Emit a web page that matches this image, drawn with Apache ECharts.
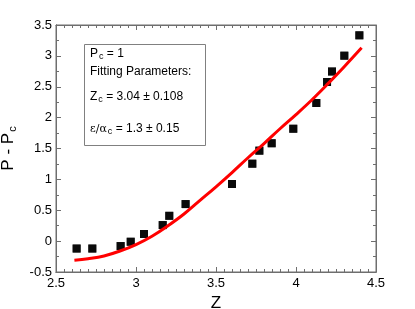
<!DOCTYPE html>
<html>
<head>
<meta charset="utf-8">
<script src="https://cdn.jsdelivr.net/npm/echarts@6/dist/echarts.min.js"></script>
<style>
html,body{margin:0;padding:0;background:#fff;}
#wrap{position:relative;width:415px;height:309px;}
#frame,#c{position:absolute;left:0;top:0;width:415px;height:309px;}
</style>
</head>
<body>
<div id="wrap"><div id="frame"></div><div id="c"></div></div>
<script>
// Measured data points
var zVals = [2.629, 2.727, 2.904, 2.967, 3.05, 3.167, 3.208, 3.31, 3.60, 3.727, 3.771, 3.848, 3.983, 4.127, 4.194, 4.225, 4.302, 4.396];
var pVals = [-0.12, -0.12, -0.08, -0.01, 0.115, 0.26, 0.41, 0.60, 0.925, 1.254, 1.465, 1.585, 1.82, 2.237, 2.577, 2.747, 3.003, 3.333];
// Fitted curve
var fitZ = [2.615, 2.7, 2.8, 2.9, 3.0, 3.1, 3.2, 3.3, 3.4, 3.5, 3.6, 3.7, 3.8, 3.9, 4.0, 4.1, 4.2, 4.3, 4.41];
var fitP = [-0.31, -0.285, -0.24, -0.16, -0.055, 0.08, 0.25, 0.44, 0.66, 0.88, 1.11, 1.35, 1.58, 1.82, 2.05, 2.29, 2.55, 2.82, 3.13];
// Axis ticks
var xTicks = [2.5, 3, 3.5, 4, 4.5];
var yTicks = [-0.5, 0, 0.5, 1, 1.5, 2, 2.5, 3, 3.5];

var FONT = 'Liberation Sans, Arial, sans-serif';
var AX = '#6e6e6e';
var GRID = { left: 56, right: 39, top: 25, bottom: 37, outerBoundsMode: 'none' };

function pairs(a, b) { return a.map(function (v, i) { return [v, b[i]]; }); }
function fmt(v) { return String(v); }

function xAx(extra) {
  var o = {
    type: 'value', min: xTicks[0], max: xTicks[xTicks.length - 1], interval: 0.5,
    axisLine: { show: true, onZero: false, lineStyle: { color: AX, width: 1 } },
    axisTick: { show: true, inside: true, length: 5, lineStyle: { color: AX, width: 1 } },
    minorTick: { show: true, splitNumber: 10, length: 3, lineStyle: { color: AX, width: 1 } },
    splitLine: { show: false }
  };
  for (var k in extra) o[k] = extra[k];
  return o;
}
function yAx(extra) {
  var o = {
    type: 'value', min: yTicks[0], max: yTicks[yTicks.length - 1], interval: 0.5,
    axisLine: { show: true, onZero: false, lineStyle: { color: AX, width: 1 } },
    axisTick: { show: true, inside: true, length: 5, lineStyle: { color: AX, width: 1 } },
    minorTick: { show: true, splitNumber: 2, length: 3, lineStyle: { color: AX, width: 1 } },
    splitLine: { show: false }
  };
  for (var k in extra) o[k] = extra[k];
  return o;
}

// Layer 1: plot frame, tick marks on all four sides
var frame = echarts.init(document.getElementById('frame'));
frame.setOption({
  animation: false,
  grid: Object.assign({ show: true, borderColor: AX, borderWidth: 1 }, GRID),
  xAxis: [xAx({ position: 'bottom', axisLabel: { show: false } }), xAx({ position: 'top', axisLabel: { show: false } })],
  yAxis: [yAx({ position: 'left', axisLabel: { show: false } }), yAx({ position: 'right', axisLabel: { show: false } })],
  series: [{ type: 'scatter', data: pairs(zVals, pVals), itemStyle: { color: '#000' }, symbol: 'rect', symbolSize: 8 }]
});

// Layer 2: labels, names, data and annotation box
var subRich = { fontSize: 9, color: '#000', fontFamily: FONT, lineHeight: 14, verticalAlign: 'bottom', padding: [6, 0, 0, 1] };
var normRich = { fontSize: 12, color: '#000', fontFamily: FONT, lineHeight: 14 };

var chart = echarts.init(document.getElementById('c'));
chart.setOption({
  animation: false,
  grid: Object.assign({ show: false }, GRID),
  xAxis: [
    xAx({
      position: 'bottom',
      name: 'Z', nameLocation: 'middle', nameGap: 17,
      nameTextStyle: { fontSize: 17, color: '#000', fontFamily: FONT },
      axisLabel: { show: true, fontSize: 13, color: '#000', margin: 5, fontFamily: FONT, formatter: fmt }
    })
  ],
  yAxis: [
    yAx({
      position: 'left',
      name: '{m|P - P}{s|c}', nameLocation: 'middle', nameGap: 36,
      nameTextStyle: {
        color: '#000', fontFamily: FONT,
        rich: {
          m: { fontSize: 17, color: '#000', fontFamily: FONT, lineHeight: 20 },
          s: { fontSize: 11, color: '#000', fontFamily: FONT, verticalAlign: 'bottom', lineHeight: 20, padding: [9, 0, 0, 1] }
        }
      },
      axisLabel: { show: true, fontSize: 13, color: '#000', margin: 4, fontFamily: FONT, formatter: fmt }
    })
  ],
  series: [
    {
      type: 'scatter',
      data: pairs(zVals, pVals),
      symbol: 'rect', symbolSize: 8,
      itemStyle: { color: '#000' }, z: 2
    },
    {
      type: 'line',
      data: pairs(fitZ, fitP),
      smooth: 0.4, showSymbol: false, symbol: 'none',
      lineStyle: { color: '#ff0000', width: 3 }, z: 3
    }
  ],
  graphic: [
    {
      type: 'rect', left: 84, top: 44, z: 10,
      shape: { width: 121, height: 101 },
      style: { fill: '#fff', stroke: '#808080', lineWidth: 1 }
    },
    {
      type: 'text', left: 90, top: 46, z: 11,
      style: { text: '{n|P}{s|c}{n| = 1}', fontFamily: FONT, rich: { n: normRich, s: subRich } }
    },
    {
      type: 'text', left: 90, top: 66, z: 11,
      style: { text: 'Fitting Parameters:', fontSize: 12, fill: '#000', fontFamily: FONT }
    },
    {
      type: 'text', left: 90, top: 89, z: 11,
      style: { text: '{n|Z}{s|c}{n| = 3.04 ± 0.108}', fontFamily: FONT, rich: { n: normRich, s: subRich } }
    },
    {
      type: 'text', left: 90, top: 121, z: 11,
      style: {
        text: '{g|ε/α}{s|c}{n| = 1.3 ± 0.15}', fontFamily: FONT,
        rich: {
          g: { fontSize: 11, color: '#000', fontFamily: 'DejaVu Serif, serif', lineHeight: 14 },
          n: normRich, s: subRich
        }
      }
    }
  ]
});
</script>
</body>
</html>
